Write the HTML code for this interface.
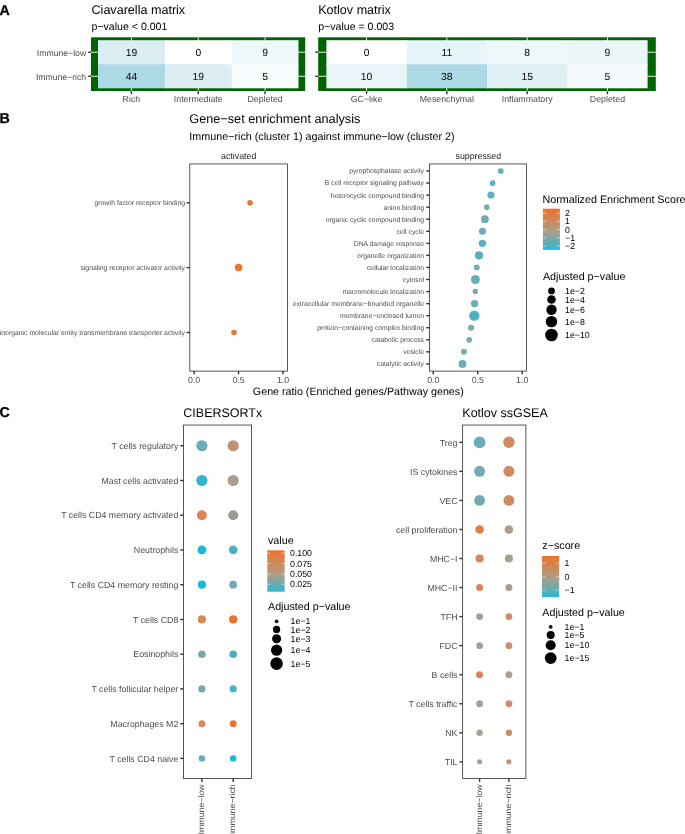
<!DOCTYPE html>
<html><head><meta charset="utf-8"><title>Figure</title>
<style>
html,body{margin:0;padding:0;background:#fff;}
body{width:685px;height:834px;overflow:hidden;}
svg{display:block;font-family:"Liberation Sans",sans-serif;will-change:transform;text-rendering:geometricPrecision;}
</style></head><body>
<svg width="685" height="834" viewBox="0 0 685 834">
<rect width="685" height="834" fill="#fff"/>
<text x="-0.4" y="14.6" font-size="14.25" fill="#000" text-anchor="start" font-weight="bold" stroke="#000" stroke-width="0.25">A</text>
<text x="91.5" y="14" font-size="12.58" fill="#000" text-anchor="start">Ciavarella matrix</text>
<text x="91.5" y="29.8" font-size="10.58" fill="#000" text-anchor="start">p−value &lt; 0.001</text>
<text x="318.2" y="14" font-size="12.58" fill="#000" text-anchor="start">Kotlov matrix</text>
<text x="318.2" y="29.8" font-size="10.58" fill="#000" text-anchor="start">p−value = 0.003</text>
<rect x="91.0" y="37.3" width="214.2" height="53.7" fill="#006400"/>
<line x1="91.0" x2="305.2" y1="52.225" y2="52.225" stroke="#fff" stroke-width="0.9"/>
<line x1="88.1" x2="91.0" y1="52.225" y2="52.225" stroke="#333333" stroke-width="1.4"/>
<line x1="91.0" x2="305.2" y1="76.275" y2="76.275" stroke="#fff" stroke-width="0.9"/>
<line x1="88.1" x2="91.0" y1="76.275" y2="76.275" stroke="#333333" stroke-width="1.4"/>
<line x1="131.41666666666666" x2="131.41666666666666" y1="37.3" y2="91.0" stroke="#fff" stroke-width="0.9"/>
<line x1="131.41666666666666" x2="131.41666666666666" y1="91.0" y2="94.2" stroke="#333333" stroke-width="1.4"/>
<line x1="198.25" x2="198.25" y1="37.3" y2="91.0" stroke="#fff" stroke-width="0.9"/>
<line x1="198.25" x2="198.25" y1="91.0" y2="94.2" stroke="#333333" stroke-width="1.4"/>
<line x1="265.0833333333333" x2="265.0833333333333" y1="37.3" y2="91.0" stroke="#fff" stroke-width="0.9"/>
<line x1="265.0833333333333" x2="265.0833333333333" y1="91.0" y2="94.2" stroke="#333333" stroke-width="1.4"/>
<rect x="98.00" y="40.20" width="67.83" height="25.05" fill="#dceef4"/>
<text x="131.42" y="55.83" font-size="10.3" fill="#000" text-anchor="middle">19</text>
<rect x="164.83" y="40.20" width="67.83" height="25.05" fill="#ffffff"/>
<text x="198.25" y="55.83" font-size="10.3" fill="#000" text-anchor="middle">0</text>
<rect x="231.67" y="40.20" width="66.83" height="25.05" fill="#eef7fa"/>
<text x="265.08" y="55.83" font-size="10.3" fill="#000" text-anchor="middle">9</text>
<rect x="98.00" y="64.25" width="67.83" height="24.05" fill="#add8e6"/>
<text x="131.42" y="79.88" font-size="10.3" fill="#000" text-anchor="middle">44</text>
<rect x="164.83" y="64.25" width="67.83" height="24.05" fill="#dceef4"/>
<text x="198.25" y="79.88" font-size="10.3" fill="#000" text-anchor="middle">19</text>
<rect x="231.67" y="64.25" width="66.83" height="24.05" fill="#f6fbfc"/>
<text x="265.08" y="79.88" font-size="10.3" fill="#000" text-anchor="middle">5</text>
<text x="131.42" y="102.3" font-size="8.8" fill="#4d4d4d" text-anchor="middle">Rich</text>
<text x="198.25" y="102.3" font-size="8.8" fill="#4d4d4d" text-anchor="middle">Intermediate</text>
<text x="265.08" y="102.3" font-size="8.8" fill="#4d4d4d" text-anchor="middle">Depleted</text>
<rect x="318.2" y="37.3" width="337.59999999999997" height="53.7" fill="#006400"/>
<line x1="318.2" x2="655.8" y1="52.225" y2="52.225" stroke="#fff" stroke-width="0.9"/>
<line x1="315.3" x2="318.2" y1="52.225" y2="52.225" stroke="#333333" stroke-width="1.4"/>
<line x1="318.2" x2="655.8" y1="76.275" y2="76.275" stroke="#fff" stroke-width="0.9"/>
<line x1="315.3" x2="318.2" y1="76.275" y2="76.275" stroke="#333333" stroke-width="1.4"/>
<line x1="366.54999999999995" x2="366.54999999999995" y1="37.3" y2="91.0" stroke="#fff" stroke-width="0.9"/>
<line x1="366.54999999999995" x2="366.54999999999995" y1="91.0" y2="94.2" stroke="#333333" stroke-width="1.4"/>
<line x1="446.85" x2="446.85" y1="37.3" y2="91.0" stroke="#fff" stroke-width="0.9"/>
<line x1="446.85" x2="446.85" y1="91.0" y2="94.2" stroke="#333333" stroke-width="1.4"/>
<line x1="527.15" x2="527.15" y1="37.3" y2="91.0" stroke="#fff" stroke-width="0.9"/>
<line x1="527.15" x2="527.15" y1="91.0" y2="94.2" stroke="#333333" stroke-width="1.4"/>
<line x1="607.45" x2="607.45" y1="37.3" y2="91.0" stroke="#fff" stroke-width="0.9"/>
<line x1="607.45" x2="607.45" y1="91.0" y2="94.2" stroke="#333333" stroke-width="1.4"/>
<rect x="326.40" y="40.20" width="81.30" height="25.05" fill="#ffffff"/>
<text x="366.55" y="55.83" font-size="10.3" fill="#000" text-anchor="middle">0</text>
<rect x="406.70" y="40.20" width="81.30" height="25.05" fill="#e7f4f8"/>
<text x="446.85" y="55.83" font-size="10.3" fill="#000" text-anchor="middle">11</text>
<rect x="487.00" y="40.20" width="81.30" height="25.05" fill="#eef7fa"/>
<text x="527.15" y="55.83" font-size="10.3" fill="#000" text-anchor="middle">8</text>
<rect x="567.30" y="40.20" width="80.30" height="25.05" fill="#ecf6f9"/>
<text x="607.45" y="55.83" font-size="10.3" fill="#000" text-anchor="middle">9</text>
<rect x="326.40" y="64.25" width="81.30" height="24.05" fill="#e9f5f8"/>
<text x="366.55" y="79.88" font-size="10.3" fill="#000" text-anchor="middle">10</text>
<rect x="406.70" y="64.25" width="81.30" height="24.05" fill="#add8e6"/>
<text x="446.85" y="79.88" font-size="10.3" fill="#000" text-anchor="middle">38</text>
<rect x="487.00" y="64.25" width="81.30" height="24.05" fill="#dff0f5"/>
<text x="527.15" y="79.88" font-size="10.3" fill="#000" text-anchor="middle">15</text>
<rect x="567.30" y="64.25" width="80.30" height="24.05" fill="#f4fafc"/>
<text x="607.45" y="79.88" font-size="10.3" fill="#000" text-anchor="middle">5</text>
<text x="366.55" y="102.3" font-size="8.8" fill="#4d4d4d" text-anchor="middle">GC−like</text>
<text x="446.85" y="102.3" font-size="8.8" fill="#4d4d4d" text-anchor="middle">Mesenchymal</text>
<text x="527.15" y="102.3" font-size="8.8" fill="#4d4d4d" text-anchor="middle">Inflammatory</text>
<text x="607.45" y="102.3" font-size="8.8" fill="#4d4d4d" text-anchor="middle">Depleted</text>
<text x="86.2" y="55.5" font-size="8.66" fill="#4d4d4d" text-anchor="end">Immune−low</text>
<text x="86.2" y="79.6" font-size="8.66" fill="#4d4d4d" text-anchor="end">Immune−rich</text>
<text x="-0.4" y="123.3" font-size="14.25" fill="#000" text-anchor="start" font-weight="bold" stroke="#000" stroke-width="0.25">B</text>
<text x="189.3" y="122.8" font-size="12.7" fill="#000" text-anchor="start">Gene−set enrichment analysis</text>
<text x="189.3" y="139.6" font-size="10.75" fill="#000" text-anchor="start">Immune−rich (cluster 1) against immune−low (cluster 2)</text>
<rect x="189.8" y="163.95" width="97.59999999999997" height="207.15000000000003" fill="#fff" stroke="#333" stroke-width="0.82"/>
<rect x="429.5" y="163.95" width="97.04999999999995" height="207.15000000000003" fill="#fff" stroke="#333" stroke-width="0.82"/>
<text x="238.7" y="158.5" font-size="8.8" fill="#1a1a1a" text-anchor="middle">activated</text>
<text x="478.3" y="158.5" font-size="8.8" fill="#1a1a1a" text-anchor="middle">suppressed</text>
<circle cx="250.05" cy="202.8" r="2.8" fill="#ea7431"/>
<line x1="186.5" x2="189.8" y1="202.8" y2="202.8" stroke="#333333" stroke-width="1.4"/>
<text x="185.0" y="205.20000000000002" font-size="6.85" fill="#4d4d4d" text-anchor="end">growth factor receptor binding</text>
<circle cx="238.55" cy="267.6" r="3.75" fill="#ec7330"/>
<line x1="186.5" x2="189.8" y1="267.6" y2="267.6" stroke="#333333" stroke-width="1.4"/>
<text x="185.0" y="270.0" font-size="6.85" fill="#4d4d4d" text-anchor="end">signaling receptor activator activity</text>
<circle cx="234.0" cy="332.5" r="2.8" fill="#ea7431"/>
<line x1="186.5" x2="189.8" y1="332.5" y2="332.5" stroke="#333333" stroke-width="1.4"/>
<text x="185.0" y="334.9" font-size="6.85" fill="#4d4d4d" text-anchor="end">inorganic molecular entity transmembrane transporter activity</text>
<circle cx="500.8" cy="171.0" r="2.86" fill="#5cb0be"/>
<line x1="426.2" x2="429.5" y1="171.0" y2="171.0" stroke="#333333" stroke-width="1.4"/>
<text x="424.0" y="173.4" font-size="6.8" fill="#4d4d4d" text-anchor="end">pyrophosphatase activity</text>
<circle cx="492.6" cy="183.06" r="2.86" fill="#5bb1c0"/>
<line x1="426.2" x2="429.5" y1="183.06" y2="183.06" stroke="#333333" stroke-width="1.4"/>
<text x="424.0" y="185.46" font-size="6.8" fill="#4d4d4d" text-anchor="end">B cell receptor signaling pathway</text>
<circle cx="491.0" cy="195.11" r="3.6" fill="#5bb1c0"/>
<line x1="426.2" x2="429.5" y1="195.11" y2="195.11" stroke="#333333" stroke-width="1.4"/>
<text x="424.0" y="197.51000000000002" font-size="6.8" fill="#4d4d4d" text-anchor="end">heterocyclic compound binding</text>
<circle cx="486.8" cy="207.17" r="2.8" fill="#78a9ae"/>
<line x1="426.2" x2="429.5" y1="207.17" y2="207.17" stroke="#333333" stroke-width="1.4"/>
<text x="424.0" y="209.57" font-size="6.8" fill="#4d4d4d" text-anchor="end">anion binding</text>
<circle cx="484.9" cy="219.22" r="3.9" fill="#6fabb3"/>
<line x1="426.2" x2="429.5" y1="219.22" y2="219.22" stroke="#333333" stroke-width="1.4"/>
<text x="424.0" y="221.62" font-size="6.8" fill="#4d4d4d" text-anchor="end">organic cyclic compound binding</text>
<circle cx="482.5" cy="231.28" r="3.55" fill="#69adb6"/>
<line x1="426.2" x2="429.5" y1="231.28" y2="231.28" stroke="#333333" stroke-width="1.4"/>
<text x="424.0" y="233.68" font-size="6.8" fill="#4d4d4d" text-anchor="end">cell cycle</text>
<circle cx="482.4" cy="243.34" r="3.7" fill="#55b1c2"/>
<line x1="426.2" x2="429.5" y1="243.34" y2="243.34" stroke="#333333" stroke-width="1.4"/>
<text x="424.0" y="245.74" font-size="6.8" fill="#4d4d4d" text-anchor="end">DNA damage response</text>
<circle cx="479.0" cy="255.39" r="4.05" fill="#59b0c0"/>
<line x1="426.2" x2="429.5" y1="255.39" y2="255.39" stroke="#333333" stroke-width="1.4"/>
<text x="424.0" y="257.78999999999996" font-size="6.8" fill="#4d4d4d" text-anchor="end">organelle organization</text>
<circle cx="476.8" cy="267.45" r="2.9" fill="#7cabb0"/>
<line x1="426.2" x2="429.5" y1="267.45" y2="267.45" stroke="#333333" stroke-width="1.4"/>
<text x="424.0" y="269.84999999999997" font-size="6.8" fill="#4d4d4d" text-anchor="end">cellular localization</text>
<circle cx="475.4" cy="279.5" r="4.45" fill="#64adb9"/>
<line x1="426.2" x2="429.5" y1="279.5" y2="279.5" stroke="#333333" stroke-width="1.4"/>
<text x="424.0" y="281.9" font-size="6.8" fill="#4d4d4d" text-anchor="end">cytosol</text>
<circle cx="475.3" cy="291.56" r="2.7" fill="#78aab0"/>
<line x1="426.2" x2="429.5" y1="291.56" y2="291.56" stroke="#333333" stroke-width="1.4"/>
<text x="424.0" y="293.96" font-size="6.8" fill="#4d4d4d" text-anchor="end">macromolecule localization</text>
<circle cx="474.6" cy="303.62" r="3.7" fill="#66adb8"/>
<line x1="426.2" x2="429.5" y1="303.62" y2="303.62" stroke="#333333" stroke-width="1.4"/>
<text x="424.0" y="306.02" font-size="6.8" fill="#4d4d4d" text-anchor="end">extracellular membrane−bounded organelle</text>
<circle cx="474.3" cy="315.67" r="5.2" fill="#52b0c2"/>
<line x1="426.2" x2="429.5" y1="315.67" y2="315.67" stroke="#333333" stroke-width="1.4"/>
<text x="424.0" y="318.07" font-size="6.8" fill="#4d4d4d" text-anchor="end">membrane−enclosed lumen</text>
<circle cx="471.0" cy="327.73" r="3.05" fill="#7aaab0"/>
<line x1="426.2" x2="429.5" y1="327.73" y2="327.73" stroke="#333333" stroke-width="1.4"/>
<text x="424.0" y="330.13" font-size="6.8" fill="#4d4d4d" text-anchor="end">protein−containing complex binding</text>
<circle cx="469.2" cy="339.78" r="2.9" fill="#7caaae"/>
<line x1="426.2" x2="429.5" y1="339.78" y2="339.78" stroke="#333333" stroke-width="1.4"/>
<text x="424.0" y="342.17999999999995" font-size="6.8" fill="#4d4d4d" text-anchor="end">catabolic process</text>
<circle cx="463.9" cy="351.84" r="3.05" fill="#7aabaf"/>
<line x1="426.2" x2="429.5" y1="351.84" y2="351.84" stroke="#333333" stroke-width="1.4"/>
<text x="424.0" y="354.23999999999995" font-size="6.8" fill="#4d4d4d" text-anchor="end">vesicle</text>
<circle cx="462.4" cy="363.9" r="3.9" fill="#68acb6"/>
<line x1="426.2" x2="429.5" y1="363.9" y2="363.9" stroke="#333333" stroke-width="1.4"/>
<text x="424.0" y="366.29999999999995" font-size="6.8" fill="#4d4d4d" text-anchor="end">catalytic activity</text>
<line x1="194.1" x2="194.1" y1="371.1" y2="374.3" stroke="#333333" stroke-width="1.4"/>
<text x="194.1" y="382.5" font-size="8.8" fill="#4d4d4d" text-anchor="middle">0.0</text>
<line x1="238.55" x2="238.55" y1="371.1" y2="374.3" stroke="#333333" stroke-width="1.4"/>
<text x="238.55" y="382.5" font-size="8.8" fill="#4d4d4d" text-anchor="middle">0.5</text>
<line x1="283.0" x2="283.0" y1="371.1" y2="374.3" stroke="#333333" stroke-width="1.4"/>
<text x="283.0" y="382.5" font-size="8.8" fill="#4d4d4d" text-anchor="middle">1.0</text>
<line x1="433.3" x2="433.3" y1="371.1" y2="374.3" stroke="#333333" stroke-width="1.4"/>
<text x="433.3" y="382.5" font-size="8.8" fill="#4d4d4d" text-anchor="middle">0.0</text>
<line x1="477.75" x2="477.75" y1="371.1" y2="374.3" stroke="#333333" stroke-width="1.4"/>
<text x="477.75" y="382.5" font-size="8.8" fill="#4d4d4d" text-anchor="middle">0.5</text>
<line x1="522.2" x2="522.2" y1="371.1" y2="374.3" stroke="#333333" stroke-width="1.4"/>
<text x="522.2" y="382.5" font-size="8.8" fill="#4d4d4d" text-anchor="middle">1.0</text>
<text x="358.3" y="394.8" font-size="10.72" fill="#000" text-anchor="middle">Gene ratio (Enriched genes/Pathway genes)</text>
<defs><linearGradient id="g1" x1="0" y1="0" x2="0" y2="1"><stop offset="0" stop-color="#f0722b"/><stop offset="0.55" stop-color="#ad9d88"/><stop offset="1" stop-color="#2ab7d6"/></linearGradient></defs>
<text x="542.5" y="202.6" font-size="10.77" fill="#000" text-anchor="start">Normalized Enrichment Score</text>
<rect x="542.9" y="208.7" width="17" height="41.2" fill="url(#g1)"/>
<line x1="542.9" x2="546.3" y1="213.2" y2="213.2" stroke="#fff" stroke-width="0.5"/>
<line x1="556.5" x2="559.9" y1="213.2" y2="213.2" stroke="#fff" stroke-width="0.5"/>
<text x="565.0" y="216.2" font-size="8.8" fill="#000" text-anchor="start">2</text>
<line x1="542.9" x2="546.3" y1="221.4" y2="221.4" stroke="#fff" stroke-width="0.5"/>
<line x1="556.5" x2="559.9" y1="221.4" y2="221.4" stroke="#fff" stroke-width="0.5"/>
<text x="565.0" y="224.4" font-size="8.8" fill="#000" text-anchor="start">1</text>
<line x1="542.9" x2="546.3" y1="229.6" y2="229.6" stroke="#fff" stroke-width="0.5"/>
<line x1="556.5" x2="559.9" y1="229.6" y2="229.6" stroke="#fff" stroke-width="0.5"/>
<text x="565.0" y="232.6" font-size="8.8" fill="#000" text-anchor="start">0</text>
<line x1="542.9" x2="546.3" y1="237.8" y2="237.8" stroke="#fff" stroke-width="0.5"/>
<line x1="556.5" x2="559.9" y1="237.8" y2="237.8" stroke="#fff" stroke-width="0.5"/>
<text x="565.0" y="240.8" font-size="8.8" fill="#000" text-anchor="start">−1</text>
<line x1="542.9" x2="546.3" y1="246.0" y2="246.0" stroke="#fff" stroke-width="0.5"/>
<line x1="556.5" x2="559.9" y1="246.0" y2="246.0" stroke="#fff" stroke-width="0.5"/>
<text x="565.0" y="249.0" font-size="8.8" fill="#000" text-anchor="start">−2</text>
<text x="542.9" y="280.3" font-size="10.72" fill="#000" text-anchor="start">Adjusted p−value</text>
<circle cx="551.5" cy="290.9" r="3.4" fill="#000"/>
<text x="565.0" y="294.0" font-size="8.8" fill="#000" text-anchor="start">1e−2</text>
<circle cx="551.5" cy="299.5" r="4.3" fill="#000"/>
<text x="565.0" y="302.6" font-size="8.8" fill="#000" text-anchor="start">1e−4</text>
<circle cx="551.5" cy="309.7" r="5.2" fill="#000"/>
<text x="565.0" y="312.8" font-size="8.8" fill="#000" text-anchor="start">1e−6</text>
<circle cx="551.5" cy="321.6" r="5.7" fill="#000"/>
<text x="565.0" y="324.7" font-size="8.8" fill="#000" text-anchor="start">1e−8</text>
<circle cx="551.5" cy="335.0" r="6.3" fill="#000"/>
<text x="565.0" y="338.1" font-size="8.8" fill="#000" text-anchor="start">1e−10</text>
<text x="-0.4" y="416.6" font-size="14.25" fill="#000" text-anchor="start" font-weight="bold" stroke="#000" stroke-width="0.25">C</text>
<text x="183.3" y="417.0" font-size="12.5" fill="#000" text-anchor="start">CIBERSORTx</text>
<text x="462.3" y="417.0" font-size="12.5" fill="#000" text-anchor="start">Kotlov ssGSEA</text>
<rect x="183.55" y="425.05" width="68.04999999999998" height="353.45" fill="#fff" stroke="#333" stroke-width="0.82"/>
<rect x="462.65" y="425.05" width="63.25" height="353.45" fill="#fff" stroke="#333" stroke-width="0.82"/>
<circle cx="201.9" cy="445.75" r="5.6" fill="#6aacb8"/>
<circle cx="233.2" cy="445.75" r="5.6" fill="#c49170"/>
<line x1="180.25" x2="183.55" y1="445.75" y2="445.75" stroke="#333333" stroke-width="1.4"/>
<text x="178.3" y="448.85" font-size="8.8" fill="#4d4d4d" text-anchor="end">T cells regulatory</text>
<circle cx="201.9" cy="480.49" r="5.6" fill="#33b4cf"/>
<circle cx="233.2" cy="480.49" r="5.6" fill="#a89f8d"/>
<line x1="180.25" x2="183.55" y1="480.49" y2="480.49" stroke="#333333" stroke-width="1.4"/>
<text x="178.3" y="483.59000000000003" font-size="8.8" fill="#4d4d4d" text-anchor="end">Mast cells activated</text>
<circle cx="201.9" cy="515.23" r="5.0" fill="#db8554"/>
<circle cx="233.2" cy="515.23" r="5.0" fill="#9b9c90"/>
<line x1="180.25" x2="183.55" y1="515.23" y2="515.23" stroke="#333333" stroke-width="1.4"/>
<text x="178.3" y="518.33" font-size="8.8" fill="#4d4d4d" text-anchor="end">T cells CD4 memory activated</text>
<circle cx="201.9" cy="549.97" r="4.4" fill="#1ab9d8"/>
<circle cx="233.2" cy="549.97" r="4.4" fill="#49b2c8"/>
<line x1="180.25" x2="183.55" y1="549.97" y2="549.97" stroke="#333333" stroke-width="1.4"/>
<text x="178.3" y="553.07" font-size="8.8" fill="#4d4d4d" text-anchor="end">Neutrophils</text>
<circle cx="201.9" cy="584.71" r="4.1" fill="#1ab9d8"/>
<circle cx="233.2" cy="584.71" r="3.9" fill="#6faab4"/>
<line x1="180.25" x2="183.55" y1="584.71" y2="584.71" stroke="#333333" stroke-width="1.4"/>
<text x="178.3" y="587.8100000000001" font-size="8.8" fill="#4d4d4d" text-anchor="end">T cells CD4 memory resting</text>
<circle cx="201.9" cy="619.45" r="4.1" fill="#d98958"/>
<circle cx="233.2" cy="619.45" r="4.1" fill="#ee712b"/>
<line x1="180.25" x2="183.55" y1="619.45" y2="619.45" stroke="#333333" stroke-width="1.4"/>
<text x="178.3" y="622.5500000000001" font-size="8.8" fill="#4d4d4d" text-anchor="end">T cells CD8</text>
<circle cx="201.9" cy="654.19" r="3.8" fill="#78a9b0"/>
<circle cx="233.2" cy="654.19" r="3.8" fill="#4bb0c6"/>
<line x1="180.25" x2="183.55" y1="654.19" y2="654.19" stroke="#333333" stroke-width="1.4"/>
<text x="178.3" y="657.2900000000001" font-size="8.8" fill="#4d4d4d" text-anchor="end">Eosinophils</text>
<circle cx="201.9" cy="688.93" r="3.6" fill="#78a9b0"/>
<circle cx="233.2" cy="688.93" r="3.6" fill="#4bb0c6"/>
<line x1="180.25" x2="183.55" y1="688.93" y2="688.93" stroke="#333333" stroke-width="1.4"/>
<text x="178.3" y="692.03" font-size="8.8" fill="#4d4d4d" text-anchor="end">T cells follicular helper</text>
<circle cx="201.9" cy="723.67" r="3.5" fill="#d98958"/>
<circle cx="233.2" cy="723.67" r="3.4" fill="#ee712b"/>
<line x1="180.25" x2="183.55" y1="723.67" y2="723.67" stroke="#333333" stroke-width="1.4"/>
<text x="178.3" y="726.77" font-size="8.8" fill="#4d4d4d" text-anchor="end">Macrophages M2</text>
<circle cx="201.9" cy="758.41" r="3.2" fill="#5fafbc"/>
<circle cx="233.2" cy="758.41" r="3.2" fill="#12bad9"/>
<line x1="180.25" x2="183.55" y1="758.41" y2="758.41" stroke="#333333" stroke-width="1.4"/>
<text x="178.3" y="761.51" font-size="8.8" fill="#4d4d4d" text-anchor="end">T cells CD4 naive</text>
<circle cx="479.6" cy="442.3" r="5.9" fill="#68adb9"/>
<circle cx="508.9" cy="442.3" r="5.7" fill="#d08b60"/>
<line x1="459.34999999999997" x2="462.65" y1="442.3" y2="442.3" stroke="#333333" stroke-width="1.4"/>
<text x="457.5" y="445.7" font-size="8.8" fill="#4d4d4d" text-anchor="end">Treg</text>
<circle cx="479.6" cy="471.35" r="5.5" fill="#72aab2"/>
<circle cx="508.9" cy="471.35" r="5.5" fill="#d08b60"/>
<line x1="459.34999999999997" x2="462.65" y1="471.35" y2="471.35" stroke="#333333" stroke-width="1.4"/>
<text x="457.5" y="474.75" font-size="8.8" fill="#4d4d4d" text-anchor="end">IS cytokines</text>
<circle cx="479.6" cy="500.4" r="5.4" fill="#72aab2"/>
<circle cx="508.9" cy="500.4" r="5.4" fill="#d08b60"/>
<line x1="459.34999999999997" x2="462.65" y1="500.4" y2="500.4" stroke="#333333" stroke-width="1.4"/>
<text x="457.5" y="503.79999999999995" font-size="8.8" fill="#4d4d4d" text-anchor="end">VEC</text>
<circle cx="479.6" cy="529.45" r="4.3" fill="#de7f4a"/>
<circle cx="508.9" cy="529.45" r="4.3" fill="#ab9e8a"/>
<line x1="459.34999999999997" x2="462.65" y1="529.45" y2="529.45" stroke="#333333" stroke-width="1.4"/>
<text x="457.5" y="532.85" font-size="8.8" fill="#4d4d4d" text-anchor="end">cell proliferation</text>
<circle cx="479.6" cy="558.5" r="4.1" fill="#d98756"/>
<circle cx="508.9" cy="558.5" r="4.1" fill="#ab9e8a"/>
<line x1="459.34999999999997" x2="462.65" y1="558.5" y2="558.5" stroke="#333333" stroke-width="1.4"/>
<text x="457.5" y="561.9" font-size="8.8" fill="#4d4d4d" text-anchor="end">MHC−I</text>
<circle cx="479.6" cy="587.55" r="3.5" fill="#d98756"/>
<circle cx="508.9" cy="587.55" r="3.5" fill="#ab9e8a"/>
<line x1="459.34999999999997" x2="462.65" y1="587.55" y2="587.55" stroke="#333333" stroke-width="1.4"/>
<text x="457.5" y="590.9499999999999" font-size="8.8" fill="#4d4d4d" text-anchor="end">MHC−II</text>
<circle cx="479.6" cy="616.6" r="3.4" fill="#9aa395"/>
<circle cx="508.9" cy="616.6" r="3.4" fill="#cb8e69"/>
<line x1="459.34999999999997" x2="462.65" y1="616.6" y2="616.6" stroke="#333333" stroke-width="1.4"/>
<text x="457.5" y="620.0" font-size="8.8" fill="#4d4d4d" text-anchor="end">TFH</text>
<circle cx="479.6" cy="645.65" r="3.4" fill="#9aa395"/>
<circle cx="508.9" cy="645.65" r="3.4" fill="#cb8e69"/>
<line x1="459.34999999999997" x2="462.65" y1="645.65" y2="645.65" stroke="#333333" stroke-width="1.4"/>
<text x="457.5" y="649.05" font-size="8.8" fill="#4d4d4d" text-anchor="end">FDC</text>
<circle cx="479.6" cy="674.7" r="3.5" fill="#d98755"/>
<circle cx="508.9" cy="674.7" r="3.5" fill="#ab9e8a"/>
<line x1="459.34999999999997" x2="462.65" y1="674.7" y2="674.7" stroke="#333333" stroke-width="1.4"/>
<text x="457.5" y="678.1" font-size="8.8" fill="#4d4d4d" text-anchor="end">B cells</text>
<circle cx="479.6" cy="703.75" r="3.4" fill="#9aa395"/>
<circle cx="508.9" cy="703.75" r="3.4" fill="#cb8e69"/>
<line x1="459.34999999999997" x2="462.65" y1="703.75" y2="703.75" stroke="#333333" stroke-width="1.4"/>
<text x="457.5" y="707.15" font-size="8.8" fill="#4d4d4d" text-anchor="end">T cells traffic</text>
<circle cx="479.6" cy="732.8" r="3.2" fill="#9ea394"/>
<circle cx="508.9" cy="732.8" r="3.2" fill="#cb8e69"/>
<line x1="459.34999999999997" x2="462.65" y1="732.8" y2="732.8" stroke="#333333" stroke-width="1.4"/>
<text x="457.5" y="736.1999999999999" font-size="8.8" fill="#4d4d4d" text-anchor="end">NK</text>
<circle cx="479.6" cy="761.85" r="2.55" fill="#aa9f8c"/>
<circle cx="508.9" cy="761.85" r="2.55" fill="#c9906e"/>
<line x1="459.34999999999997" x2="462.65" y1="761.85" y2="761.85" stroke="#333333" stroke-width="1.4"/>
<text x="457.5" y="765.25" font-size="8.8" fill="#4d4d4d" text-anchor="end">TIL</text>
<line x1="201.9" x2="201.9" y1="778.5" y2="781.9" stroke="#333333" stroke-width="1.4"/>
<line x1="233.2" x2="233.2" y1="778.5" y2="781.9" stroke="#333333" stroke-width="1.4"/>
<line x1="479.6" x2="479.6" y1="778.5" y2="781.9" stroke="#333333" stroke-width="1.4"/>
<line x1="508.9" x2="508.9" y1="778.5" y2="781.9" stroke="#333333" stroke-width="1.4"/>
<text x="0" y="0" font-size="8.8" fill="#4d4d4d" text-anchor="end" transform="translate(204.0,784.3) rotate(-90) scale(1,0.92)">Immune−low</text>
<text x="0" y="0" font-size="8.8" fill="#4d4d4d" text-anchor="end" transform="translate(235.29999999999998,784.3) rotate(-90) scale(1,0.92)">Immune−rich</text>
<text x="0" y="0" font-size="8.8" fill="#4d4d4d" text-anchor="end" transform="translate(481.70000000000005,784.3) rotate(-90) scale(1,0.92)">Immune−low</text>
<text x="0" y="0" font-size="8.8" fill="#4d4d4d" text-anchor="end" transform="translate(511.0,784.3) rotate(-90) scale(1,0.92)">Immune−rich</text>
<defs><linearGradient id="g2" x1="0" y1="0" x2="0" y2="1"><stop offset="0" stop-color="#f0722b"/><stop offset="0.6" stop-color="#ad9d88"/><stop offset="1" stop-color="#2ab7d6"/></linearGradient></defs>
<text x="268.0" y="544.0" font-size="10.72" fill="#000" text-anchor="start">value</text>
<rect x="267.3" y="550.3" width="17.3" height="41.4" fill="url(#g2)"/>
<line x1="267.3" x2="270.7" y1="553.2" y2="553.2" stroke="#fff" stroke-width="0.5"/>
<line x1="281.20000000000005" x2="284.6" y1="553.2" y2="553.2" stroke="#fff" stroke-width="0.5"/>
<text x="290.0" y="556.2" font-size="8.8" fill="#000" text-anchor="start">0.100</text>
<line x1="267.3" x2="270.7" y1="563.6" y2="563.6" stroke="#fff" stroke-width="0.5"/>
<line x1="281.20000000000005" x2="284.6" y1="563.6" y2="563.6" stroke="#fff" stroke-width="0.5"/>
<text x="290.0" y="566.6" font-size="8.8" fill="#000" text-anchor="start">0.075</text>
<line x1="267.3" x2="270.7" y1="573.9" y2="573.9" stroke="#fff" stroke-width="0.5"/>
<line x1="281.20000000000005" x2="284.6" y1="573.9" y2="573.9" stroke="#fff" stroke-width="0.5"/>
<text x="290.0" y="576.9" font-size="8.8" fill="#000" text-anchor="start">0.050</text>
<line x1="267.3" x2="270.7" y1="584.2" y2="584.2" stroke="#fff" stroke-width="0.5"/>
<line x1="281.20000000000005" x2="284.6" y1="584.2" y2="584.2" stroke="#fff" stroke-width="0.5"/>
<text x="290.0" y="587.2" font-size="8.8" fill="#000" text-anchor="start">0.025</text>
<text x="268.0" y="610.4" font-size="10.72" fill="#000" text-anchor="start">Adjusted p−value</text>
<circle cx="276.6" cy="621.3" r="1.85" fill="#000"/>
<text x="290.6" y="624.4" font-size="8.8" fill="#000" text-anchor="start">1e−1</text>
<circle cx="276.6" cy="629.4" r="3.6" fill="#000"/>
<text x="290.6" y="632.5" font-size="8.8" fill="#000" text-anchor="start">1e−2</text>
<circle cx="276.6" cy="638.7" r="4.5" fill="#000"/>
<text x="290.6" y="641.8" font-size="8.8" fill="#000" text-anchor="start">1e−3</text>
<circle cx="276.6" cy="650.2" r="5.6" fill="#000"/>
<text x="290.6" y="653.3" font-size="8.8" fill="#000" text-anchor="start">1e−4</text>
<circle cx="276.6" cy="663.6" r="6.3" fill="#000"/>
<text x="290.6" y="666.7" font-size="8.8" fill="#000" text-anchor="start">1e−5</text>
<defs><linearGradient id="g3" x1="0" y1="0" x2="0" y2="1"><stop offset="0" stop-color="#f0722b"/><stop offset="0.54" stop-color="#ad9d88"/><stop offset="1" stop-color="#2ab7d6"/></linearGradient></defs>
<text x="542.3" y="549.0" font-size="10.72" fill="#000" text-anchor="start">z−score</text>
<rect x="542.0" y="556.0" width="17.2" height="41.2" fill="url(#g3)"/>
<line x1="542.0" x2="545.4" y1="563.0" y2="563.0" stroke="#fff" stroke-width="0.5"/>
<line x1="555.8000000000001" x2="559.2" y1="563.0" y2="563.0" stroke="#fff" stroke-width="0.5"/>
<text x="564.6" y="566.0" font-size="8.8" fill="#000" text-anchor="start">1</text>
<line x1="542.0" x2="545.4" y1="576.8" y2="576.8" stroke="#fff" stroke-width="0.5"/>
<line x1="555.8000000000001" x2="559.2" y1="576.8" y2="576.8" stroke="#fff" stroke-width="0.5"/>
<text x="564.6" y="579.8" font-size="8.8" fill="#000" text-anchor="start">0</text>
<line x1="542.0" x2="545.4" y1="590.2" y2="590.2" stroke="#fff" stroke-width="0.5"/>
<line x1="555.8000000000001" x2="559.2" y1="590.2" y2="590.2" stroke="#fff" stroke-width="0.5"/>
<text x="564.6" y="593.2" font-size="8.8" fill="#000" text-anchor="start">−1</text>
<text x="542.3" y="615.8" font-size="10.72" fill="#000" text-anchor="start">Adjusted p−value</text>
<circle cx="550.7" cy="626.8" r="1.85" fill="#000"/>
<text x="564.6" y="629.9" font-size="8.8" fill="#000" text-anchor="start">1e−1</text>
<circle cx="550.7" cy="635.1" r="4.0" fill="#000"/>
<text x="564.6" y="638.2" font-size="8.8" fill="#000" text-anchor="start">1e−5</text>
<circle cx="550.7" cy="645.3" r="5.0" fill="#000"/>
<text x="564.6" y="648.4" font-size="8.8" fill="#000" text-anchor="start">1e−10</text>
<circle cx="550.7" cy="658.1" r="5.9" fill="#000"/>
<text x="564.6" y="661.2" font-size="8.8" fill="#000" text-anchor="start">1e−15</text>
</svg>
</body></html>
